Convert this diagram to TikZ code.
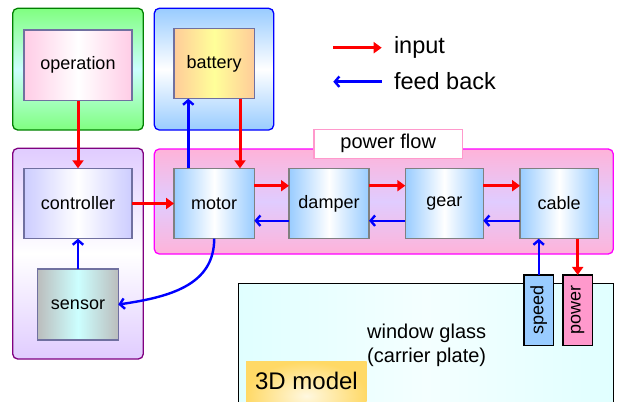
\documentclass[tikz,border=0pt]{standalone}
\usepackage{fontspec}
\setmainfont{Liberation Sans}
\usetikzlibrary{arrows.meta}
\definecolor{boxline}{HTML}{7070A0}
\definecolor{mechline}{HTML}{808080}
\definecolor{opside}{HTML}{FFCCE6}
\definecolor{batside}{HTML}{FFCC99}
\definecolor{batmid}{HTML}{FFFF99}
\definecolor{ctlside}{HTML}{CCCCFF}
\definecolor{senside}{HTML}{BBBDBD}
\definecolor{senmid}{HTML}{CCFFFF}
\definecolor{mechside}{HTML}{99CCFF}
\definecolor{grnfill}{HTML}{80FF80}
\definecolor{grnmid}{HTML}{CCFFFF}
\definecolor{grnline}{HTML}{008000}
\definecolor{bluefill}{HTML}{99CCFF}
\definecolor{purpfill}{HTML}{E0CCFF}
\definecolor{purpline}{HTML}{800080}
\definecolor{pinkfill}{HTML}{FFB3D9}
\definecolor{pinkmid}{HTML}{E0CCFF}
\definecolor{pinkline}{HTML}{FF00FF}
\definecolor{lblline}{HTML}{FF99CC}
\definecolor{glassfill}{HTML}{E0FFFF}
\definecolor{glassmid}{HTML}{F4FFFF}
\definecolor{speedfill}{HTML}{99CCFF}
\definecolor{powerfill}{HTML}{FF99CC}
\definecolor{modelout}{HTML}{FFD966}
\definecolor{modelin}{HTML}{FFF8E0}
\begin{document}
\begin{tikzpicture}[x=1pt,y=-1pt,
  every node/.style={inner sep=0pt,outer sep=0pt},
  fnt/.style={font=\fontsize{18}{21}\selectfont},
  hgrad/.style 2 args={left color=#1,right color=#1,middle color=#2},
  vgrad/.style 2 args={top color=#1,bottom color=#1,middle color=#2},
  ctrlbox/.style={draw=boxline,line width=1.3pt,fnt,minimum height=70.4pt},
  mechbox/.style={draw=mechline,line width=1.3pt,fnt,minimum height=70.4pt,
    hgrad={mechside}{white}},
  group/.style={line width=1.3pt,rounded corners=5pt},
  sidebox/.style={draw=black,line width=1.3pt,fnt,minimum width=70.7pt,minimum height=29.5pt},
  redarrow/.style={draw=red,line width=3pt,-{Triangle[length=8pt,width=11pt]}},
  bluearrow/.style={draw=blue,line width=2.4pt,-{Straight Barb[length=4.5pt,width=10.5pt]}}]
\useasboundingbox (0,0) rectangle (617,401);

% group containers
\path[group,draw=grnline,vgrad={grnfill}{grnmid}] (12.7,8.3) rectangle (143.3,130);
\path[group,draw=blue,vgrad={bluefill}{white}] (154.3,8.3) rectangle (273.7,130);
\path[group,draw=purpline,vgrad={purpfill}{white}] (12.7,148.3) rectangle (143.3,359);
\path[group,draw=pinkline,vgrad={pinkfill}{pinkmid}] (154.3,149) rectangle (613.3,254);
\node[draw=lblline,line width=1.3pt,fill=white,minimum width=148.3pt,minimum height=29pt,
  font=\fontsize{20}{24}\selectfont] (flowlbl) at (388.2,143.8) {power flow};

% window glass and 3D model
\path[draw=black,line width=1.3pt,hgrad={glassfill}{glassmid}] (238.3,283.3) rectangle (613.3,430);
\node[font=\fontsize{20}{23.7}\selectfont,align=center] (glass) at (426.7,345) {window glass\\(carrier plate)};
\path[inner color=modelin,outer color=modelout] (246,361.7) rectangle (366.7,430);
\node[font=\fontsize{24}{28}\selectfont,anchor=base] (model) at (306.5,389) {3D model};

% blocks
\node[ctrlbox,minimum width=108pt,minimum height=70.7pt,hgrad={opside}{white}] (operation) at (78,65.3) {operation};
\node[ctrlbox,minimum width=80.3pt,hgrad={batside}{batmid}] (battery) at (214.2,63.5) {battery};
\node[ctrlbox,minimum width=108pt,hgrad={ctlside}{white}] (controller) at (78,203.5) {controller};
\node[ctrlbox,minimum width=80.6pt,minimum height=71pt,hgrad={senside}{senmid}] (sensor) at (78,304.5) {sensor};
\node[mechbox,minimum width=80.3pt] (motor) at (214.2,203.5) {motor};
\node[mechbox,minimum width=80pt] (damper) at (329,203.5) {damper};
\node[mechbox,minimum width=78pt] (gear) at (444.3,203.5) {gear};
\node[mechbox,minimum width=78.3pt] (cable) at (559.2,203.5) {cable};
\node[sidebox,fill=speedfill,rotate=90] (speed) at (538.7,310.3) {speed};
\node[sidebox,fill=powerfill,rotate=90] (power) at (577.7,310.3) {power};

% connectors
\draw[redarrow] (operation.south) -- (controller.north);
\draw[bluearrow] (sensor.north) -- (controller.south);
\draw[redarrow] (controller.east) -- (motor.west);
\draw[bluearrow] ([xshift=-25.9pt]motor.north) -- ([xshift=-25.9pt]battery.south);
\draw[redarrow] ([xshift=25.8pt]battery.south) -- ([xshift=25.8pt]motor.north);
\draw[redarrow] ([yshift=17.8pt]motor.east) -- ([yshift=17.8pt]damper.west);
\draw[bluearrow] ([yshift=-17.2pt]damper.west) -- ([yshift=-17.2pt]motor.east);
\draw[redarrow] ([yshift=17.8pt]damper.east) -- ([yshift=17.8pt]gear.west);
\draw[bluearrow] ([yshift=-17.2pt]gear.west) -- ([yshift=-17.2pt]damper.east);
\draw[redarrow] ([yshift=17.8pt]gear.east) -- ([yshift=17.8pt]cable.west);
\draw[bluearrow] ([yshift=-17.2pt]cable.west) -- ([yshift=-17.2pt]gear.east);
\draw[bluearrow] (speed.east) -- (speed.east |- cable.south);
\draw[redarrow] (power.east |- cable.south) -- (power.east);
\draw[bluearrow] (motor.south) .. controls (214.2,285) and (170,297) .. (sensor.east);

% legend
\coordinate (inA) at (333.3,47.7);
\coordinate (inB) at (381.7,47.7);
\coordinate (fbA) at (381.7,81.7);
\coordinate (fbB) at (333.3,81.7);
\draw[redarrow] (inA) -- (inB);
\draw[bluearrow] (fbA) -- (fbB);
\node[font=\fontsize{23.5}{28}\selectfont,anchor=base west] (inlbl) at (394,54) {input};
\node[font=\fontsize{23.5}{28}\selectfont,anchor=base west] (fblbl) at (394,89) {feed back};
\end{tikzpicture}
\end{document}
